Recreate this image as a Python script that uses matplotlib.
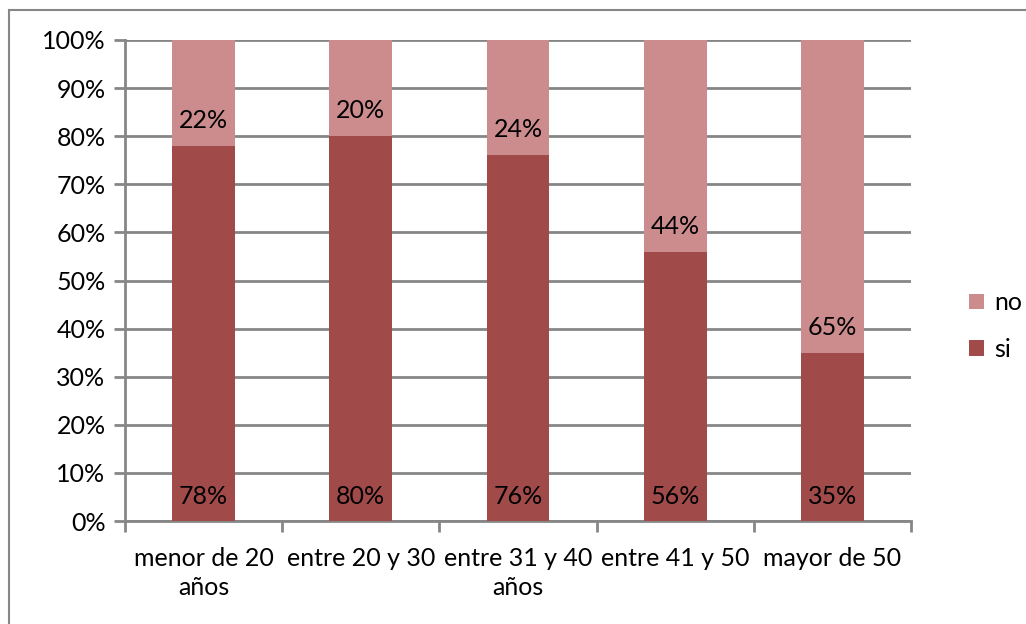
import matplotlib.pyplot as plt
from matplotlib.patches import Rectangle
import numpy as np

# data
categories = ["menor de 20\naños", "entre 20 y 30", "entre 31 y 40\naños", "entre 41 y 50", "mayor de 50"]
si_vals = [78, 80, 76, 56, 35]
no_vals = [22, 20, 24, 44, 65]

plt.rcParams['font.family'] = ['Lato', 'DejaVu Sans']

grid_col = '#868686'
si_col = '#A14A4A'
no_col = '#CC8C8E'
fs = 18

fig = plt.figure(figsize=(10.26, 6.24), dpi=100)
ax = fig.add_axes([0.1218, 0.165, 0.888 - 0.1218, 0.9359 - 0.165])

# outer chart border
fig.patches.append(Rectangle((9 / 1026, -0.01), 1.0, 1 - 10 / 624 + 0.01,
                             transform=fig.transFigure, fill=False,
                             edgecolor=grid_col, lw=1.5))

x = np.arange(len(categories))
w = 0.4
b1 = ax.bar(x, si_vals, w, color=si_col, label='si', zorder=3)
b2 = ax.bar(x, no_vals, w, bottom=si_vals, color=no_col, label='no', zorder=3)

# labels sit near the base of each segment
for i in range(len(categories)):
    ax.text(x[i], 5, f"{si_vals[i]}%", ha='center', va='center', fontsize=fs, zorder=4)
    ax.text(x[i], si_vals[i] + 5.3, f"{no_vals[i]}%", ha='center', va='center', fontsize=fs, zorder=4)

ax.set_xlim(-0.5, len(categories) - 0.5)
ax.set_ylim(0, 100)
ax.set_yticks(np.arange(0, 101, 10))
ax.set_yticklabels([f"{v}%" for v in range(0, 101, 10)], fontsize=fs)
ax.yaxis.grid(True, color=grid_col, lw=2, zorder=0)

ax.set_xticks(x)
ax.set_xticklabels(categories, fontsize=fs, linespacing=1.3)
ax.tick_params(axis='x', length=0, pad=19)
ax.set_xticks(np.arange(-0.5, len(categories), 1), minor=True)
ax.tick_params(axis='x', which='minor', length=8, width=2, color=grid_col)
ax.tick_params(axis='y', length=8, width=2, color=grid_col, pad=6)

for s in ['top', 'right']:
    ax.spines[s].set_visible(False)
for s in ['left', 'bottom']:
    ax.spines[s].set_color(grid_col)
    ax.spines[s].set_linewidth(2)

handles = [b2, b1]
ax.legend(handles, ['no', 'si'], loc='center left', bbox_to_anchor=(1.045, 0.405),
          frameon=False, fontsize=fs, handlelength=0.6, handleheight=0.6,
          labelspacing=0.95, handletextpad=0.4)

fig.savefig('out.png', dpi=100)
